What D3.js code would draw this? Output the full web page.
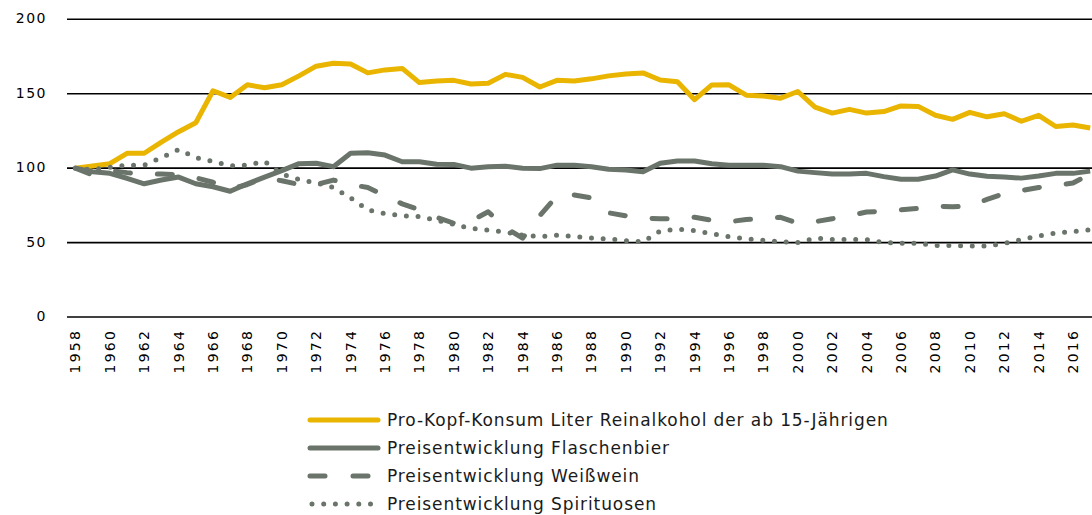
<!DOCTYPE html>
<html>
<head>
<meta charset="utf-8">
<script src="https://cdn.jsdelivr.net/npm/d3@7"></script>
<style>
  body { margin: 0; background: #fff; }
  svg { display: block; }
</style>
</head>
<body>
<div id="chart"></div>
<script>
// years on the x axis
let years = d3.range(1958, 2018);

// index values, 1958 = 100
let konsum = [100, 101.5, 103, 110, 110, 117.5, 124.5, 130.5, 152, 147.5,
  156, 154, 156, 162, 168.5, 170.5, 170, 164, 166, 167,
  157.5, 158.5, 159, 156.5, 157, 163, 161, 154.5, 159, 158.5,
  160, 162, 163.3, 164, 159.2, 158, 146, 155.9, 156, 149,
  148.5, 147, 151.5, 141, 137, 139.5, 137, 138, 141.8, 141.5,
  135.5, 132.8, 137.5, 134.5, 136.5, 131.5, 135.5, 128, 129, 127];

let bier = [100, 97.6, 96.5, 93.2, 89.5, 92, 94, 89.5, 87.5, 84.5,
  89.5, 94, 98.3, 103, 103.3, 101, 110, 110.4, 108.8, 104.3,
  104.3, 102.6, 102.5, 100, 101, 101.3, 100, 99.7, 102, 102,
  101, 99.2, 98.8, 97.6, 103.3, 104.8, 104.8, 103, 102, 102,
  102, 101, 98, 97, 96, 96, 96.5, 94.3, 92.5, 92.5,
  94.7, 98.8, 96, 94.5, 94, 93.3, 94.7, 96.5, 96.5, 98];

let weisswein = [100, 95.5, 98.5, 97, 96, 96, 95.5, 93.5, 90.5, 86,
  89, 93.5, 91.5, 89, 89, 92, 89, 87, 81.5, 76,
  72, 67, 63, 64.5, 70.7, 60, 53, 68, 81.5, 82,
  80, 70, 68, 66.5, 66, 66, 67, 65, 64, 65.5,
  66, 67, 63, 64, 66, 68, 70.5, 71, 72, 73,
  74.5, 74, 74.5, 79, 83, 85, 87, 88.5, 90, 96];

let spirituosen = [100, 99, 100.5, 102, 102, 107, 112.5, 107, 104.5, 101.5,
  102, 104.5, 96, 92.5, 90, 87, 80, 72, 69.5, 68,
  67.5, 65, 62.3, 59.5, 58.4, 57, 55, 54, 55, 54,
  53, 52.4, 51.3, 50.5, 57.8, 59, 58, 56, 54, 52.5,
  51.5, 50.5, 50, 53, 52, 52, 52, 50, 49.5, 49.5,
  48, 48, 47.7, 47.7, 49.5, 52, 54.5, 56.5, 57.5, 58.5];

let yTicks = [0, 50, 100, 150, 200];

let seriesNames = [
  "Pro-Kopf-Konsum Liter Reinalkohol der ab 15-Jährigen",
  "Preisentwicklung Flaschenbier",
  "Preisentwicklung Weißwein",
  "Preisentwicklung Spirituosen"
];

let yellow = "#e9b500";
let grey = "#6a746b";

let series = [
  {name: seriesNames[0], values: konsum, color: yellow, dash: null},
  {name: seriesNames[1], values: bier, color: grey, dash: null},
  {name: seriesNames[2], values: weisswein, color: grey, dash: "15,27"},
  {name: seriesNames[3], values: spirituosen, color: grey, dash: "0,11.7"}
];

let width = 1092, height = 515;

let viz = d3.select("#chart")
  .append("svg")
    .attr("width", width)
    .attr("height", height);

let x = d3.scalePoint()
  .domain(years)
  .range([75.4, 75.4 + 59 * 17.2]);

let y = d3.scaleLinear()
  .domain([0, 200])
  .range([317, 19.3]);

// horizontal grid lines
viz.selectAll(".grid").data(yTicks).enter()
  .append("line")
    .attr("class", "grid")
    .attr("x1", 67)
    .attr("x2", width)
    .attr("y1", d => y(d))
    .attr("y2", d => y(d))
    .attr("stroke", "#000")
    .attr("stroke-width", 1.6);

// y labels
viz.selectAll(".ylab").data(yTicks).enter()
  .append("text")
    .attr("class", "ylab")
    .text(d => d)
    .attr("x", 47)
    .attr("y", d => y(d) + 4)
    .attr("text-anchor", "end")
    .attr("font-family", "DejaVu Sans")
    .attr("font-size", 14)
    .attr("letter-spacing", 1.5)
    .attr("fill", "#000");

// x labels, every second year, rotated
let xLabels = years.filter(d => (d - 1958) % 2 == 0);
viz.selectAll(".xlab").data(xLabels).enter()
  .append("text")
    .attr("class", "xlab")
    .text(d => d)
    .attr("transform", d => "translate(" + (x(d) + 5) + ",329) rotate(-90)")
    .attr("text-anchor", "end")
    .attr("font-family", "DejaVu Sans")
    .attr("font-size", 14)
    .attr("letter-spacing", 2.2)
    .attr("fill", "#000");

let line = d3.line()
  .x((d, i) => x(years[i]))
  .y(d => y(d));

viz.selectAll(".series").data(series).enter()
  .append("path")
    .attr("class", "series")
    .attr("d", d => line(d.values))
    .attr("fill", "none")
    .attr("stroke", d => d.color)
    .attr("stroke-width", 5)
    .attr("stroke-linecap", d => d.dash ? "round" : "butt")
    .attr("stroke-linejoin", "round")
    .attr("stroke-dasharray", d => d.dash);

// legend
let legend = viz.selectAll(".legend").data(series).enter()
  .append("g")
    .attr("class", "legend")
    .attr("transform", (d, i) => "translate(0," + (420 + i * 28) + ")");

legend.append("line")
  .attr("x1", d => d.dash == "0,11.7" ? 312 : 310)
  .attr("x2", 378)
  .attr("y1", 0)
  .attr("y2", 0)
  .attr("stroke", d => d.color)
  .attr("stroke-width", 5)
  .attr("stroke-linecap", "round")
  .attr("stroke-dasharray", d => d.dash == "15,27" ? "15,28" : d.dash);

legend.append("text")
  .text(d => d.name)
  .attr("x", 387)
  .attr("y", 6)
  .attr("font-family", "DejaVu Sans")
  .attr("font-size", 17)
  .attr("letter-spacing", 0.9)
  .attr("fill", "#1a1a1a");
</script>
</body>
</html>
